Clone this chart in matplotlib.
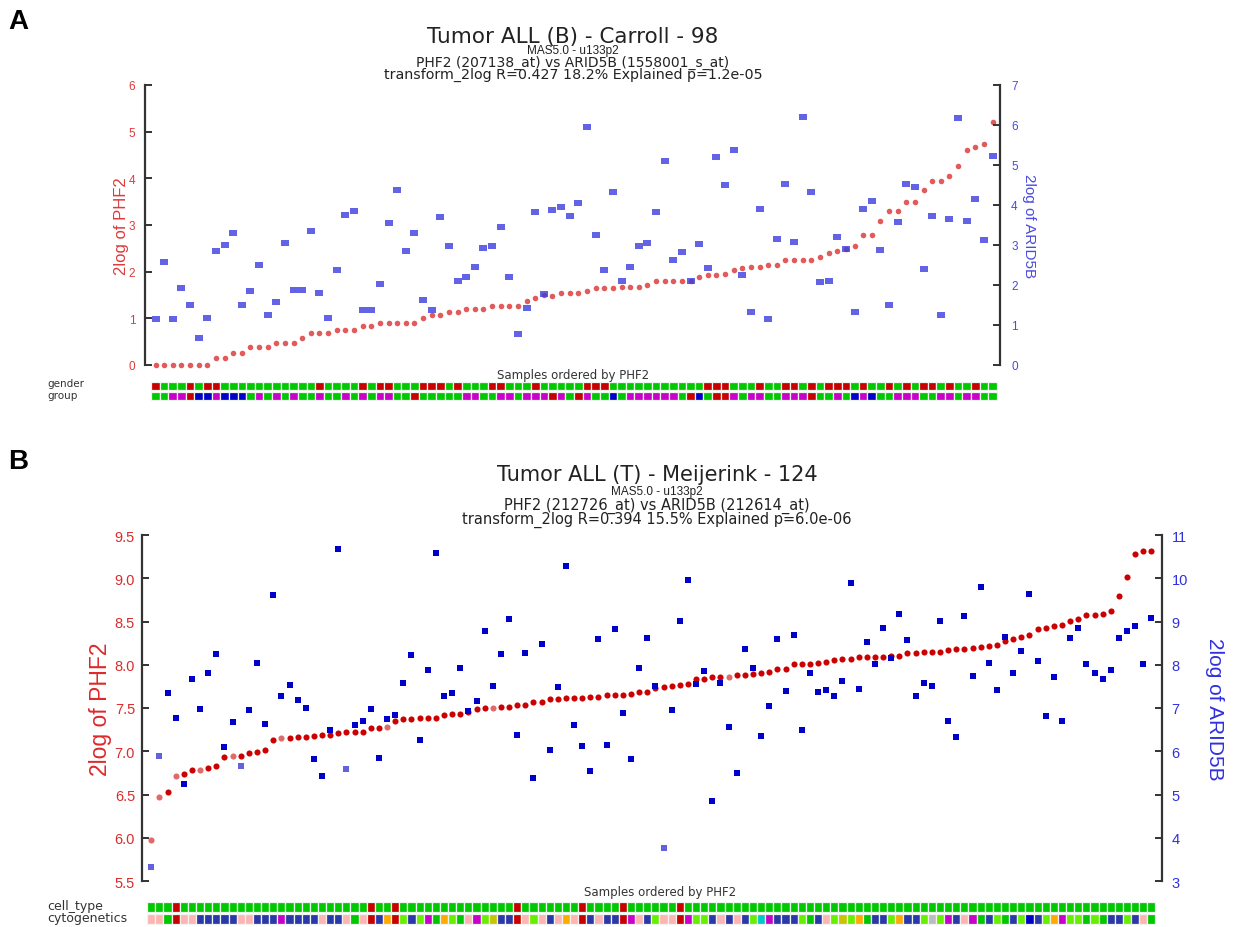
import numpy as np
import matplotlib
matplotlib.use("Agg")
import matplotlib.pyplot as plt

plt.rcParams['font.family'] = ['Liberation Sans', 'DejaVu Sans']

# ---------------- Panel A: Tumor ALL (B) - Carroll - 98 ----------------
phf2_a = [0, 0, 0, 0, 0, 0, 0, 0.14, 0.14, 0.26, 0.26, 0.38, 0.38, 0.38, 0.48, 0.48, 0.48,
          0.58, 0.68, 0.68, 0.68, 0.76, 0.76, 0.76, 0.84, 0.84, 0.91, 0.91, 0.91, 0.91, 0.91,
          1.00, 1.08, 1.08, 1.14, 1.14, 1.19, 1.19, 1.19, 1.26, 1.26, 1.26, 1.26, 1.38, 1.44,
          1.50, 1.48, 1.54, 1.54, 1.54, 1.59, 1.64, 1.64, 1.64, 1.68, 1.68, 1.68, 1.72, 1.80,
          1.80, 1.80, 1.80, 1.80, 1.88, 1.92, 1.92, 1.96, 2.04, 2.08, 2.10, 2.10, 2.14, 2.14,
          2.24, 2.24, 2.26, 2.26, 2.31, 2.40, 2.44, 2.49, 2.56, 2.78, 2.78, 3.08, 3.30, 3.30,
          3.50, 3.50, 3.74, 3.94, 3.94, 4.06, 4.26, 4.61, 4.68, 4.74, 5.21]
arid5b_a = [1.14, 2.58, 1.14, 1.93, 1.49, 0.68, 1.18, 2.84, 3.01, 3.31, 1.49, 1.84, 2.49,
            1.26, 1.58, 3.05, 1.88, 1.88, 3.36, 1.79, 1.18, 2.38, 3.75, 3.84, 1.38, 1.38,
            2.03, 3.54, 4.38, 2.84, 3.31, 1.63, 1.38, 3.71, 2.98, 2.10, 2.19, 2.45, 2.92,
            2.98, 3.45, 2.19, 0.77, 1.42, 3.83, 1.78, 3.88, 3.94, 3.73, 4.06, 5.95, 3.24,
            2.38, 4.33, 2.10, 2.45, 2.98, 3.06, 3.83, 5.11, 2.63, 2.82, 2.10, 3.03, 2.43,
            5.20, 4.50, 5.38, 2.24, 1.33, 3.89, 1.14, 3.15, 4.53, 3.08, 6.20, 4.33, 2.08,
            2.10, 3.19, 2.90, 1.33, 3.89, 4.10, 2.87, 1.49, 3.57, 4.53, 4.45, 2.40, 3.73,
            1.26, 3.66, 6.18, 3.59, 4.15, 3.13, 5.23]
gender_a = ("RGGGRGRRGG" "GGGGGGGGGR" "GGGGRGRRGG" "GRRRGRGGGR" "RGGGRGGGGG"
            "RRRGGGGGGG" "GGGGRRRGGG" "RGGRRGRGRR" "RGRGGRGRGR" "RGRGGRGG")
group_a = ("GGMMRBBMBB" "BGMGMGMGGM" "GGMGMGMMGG" "RGGGGGMMGG" "MMGMMMRMGR"
           "MGGBGMMMMM" "MGRBGRRMGM" "MGGMMMRGGM" "GBMBGGMMMG" "GMMGMMGG")

# ---------------- Panel B: Tumor ALL (T) - Meijerink - 124 ----------------
phf2_b = [5.97, 6.47, 6.53, 6.71, 6.74, 6.78, 6.78, 6.81, 6.83, 6.93, 6.94, 6.95, 6.98,
          6.99, 7.02, 7.13, 7.15, 7.15, 7.17, 7.17, 7.18, 7.19, 7.19, 7.21, 7.22, 7.22,
          7.22, 7.27, 7.27, 7.28, 7.35, 7.37, 7.37, 7.38, 7.39, 7.39, 7.42, 7.43, 7.43,
          7.45, 7.49, 7.50, 7.50, 7.51, 7.51, 7.53, 7.54, 7.57, 7.57, 7.60, 7.60, 7.62,
          7.62, 7.62, 7.63, 7.63, 7.65, 7.65, 7.65, 7.66, 7.68, 7.68, 7.73, 7.74, 7.75,
          7.77, 7.78, 7.83, 7.83, 7.86, 7.86, 7.86, 7.88, 7.88, 7.89, 7.90, 7.92, 7.95,
          7.95, 8.01, 8.01, 8.01, 8.02, 8.03, 8.05, 8.07, 8.07, 8.09, 8.09, 8.09, 8.09,
          8.10, 8.10, 8.14, 8.14, 8.15, 8.15, 8.15, 8.17, 8.18, 8.18, 8.19, 8.21, 8.22,
          8.23, 8.27, 8.30, 8.32, 8.34, 8.41, 8.42, 8.45, 8.46, 8.51, 8.53, 8.58, 8.58,
          8.59, 8.62, 8.79, 9.01, 9.28, 9.31, 9.32]
arid5b_b = [3.32, 5.88, 7.35, 6.78, 5.24, 7.66, 6.97, 7.80, 8.25, 6.09, 6.68, 5.67, 6.95,
            8.04, 6.62, 9.61, 7.27, 7.53, 7.19, 7.00, 5.82, 5.43, 6.49, 10.68, 5.59, 6.60,
            6.71, 6.97, 5.85, 6.74, 6.84, 7.58, 8.22, 6.25, 7.88, 10.59, 7.27, 7.35, 7.93,
            6.92, 7.16, 8.78, 7.51, 8.25, 9.05, 6.38, 8.28, 5.38, 8.47, 6.02, 7.48, 10.28,
            6.60, 6.12, 5.54, 8.60, 6.15, 8.82, 6.89, 5.82, 7.93, 8.63, 7.51, 3.77, 6.95,
            9.02, 9.95, 7.56, 7.85, 4.86, 7.58, 6.55, 5.50, 8.36, 7.93, 6.36, 7.05, 8.60,
            7.40, 8.68, 6.49, 7.80, 7.38, 7.42, 7.27, 7.62, 9.90, 7.45, 8.52, 8.02, 8.86,
            8.15, 9.18, 8.58, 7.27, 7.58, 7.51, 9.02, 6.71, 6.33, 9.13, 7.75, 9.80, 8.04,
            7.42, 8.65, 7.82, 8.31, 9.64, 8.09, 6.82, 7.72, 6.71, 8.63, 8.86, 8.02, 7.82,
            7.67, 7.88, 8.63, 8.78, 8.89, 8.02, 9.08]
# samples whose measurement is shown in a paler tone (1-based)
pale_phf2_b = [1, 2, 4, 7, 11, 17, 30, 43, 72]
pale_arid5b_b = [1, 2, 12, 25, 64]
cell_type_b = "".join("R" if i in (4, 28, 31, 46, 54, 59, 66) else "G" for i in range(1, 125))
cytogenetics_b = ("PPGRPPNNNN" "NPPNNNMNNN" "NPNNPGPRNO" "RLNLMGOLGP" "MLYNNRPLPN"
                  "POPRNPNNRM" "PNLPPRMLLN" "PNPNLCMNNN" "LGNPLYLOGN" "NLONNLALMN"
                  "PMGNLGNLBN" "LOMLLGLGNN" "LNPG")

palette = {"G": "#00c800", "R": "#c80000", "M": "#c800c8", "B": "#0000c8",
           "P": "#ffb4b4", "N": "#2a38a8", "O": "#ffaa00", "L": "#66f000",
           "Y": "#c8c400", "C": "#00c8c8", "A": "#bcbcbc"}

W, H = 1239, 928
fig = plt.figure(figsize=(W / 100, H / 100), dpi=100)
WIDE = ['DejaVu Sans']


def box(left, top, right, bottom):
    return [left / W, 1 - bottom / H, (right - left) / W, (bottom - top) / H]


def ftext(x, y, s, **kw):
    fig.text(x / W, 1 - y / H, s, **kw)


GREY = "#333333"
TXT = "#222222"


def style_pair(ax, tw, lcol, rcol, fs, lpad, rpad):
    for a in (ax, tw):
        a.spines['top'].set_visible(False)
        a.spines['bottom'].set_visible(False)
        a.set_xticks([])
        a.patch.set_visible(False)
    ax.spines['right'].set_visible(False)
    tw.spines['left'].set_visible(False)
    ax.spines['left'].set_color(GREY)
    ax.spines['left'].set_linewidth(1.6)
    tw.spines['right'].set_color(GREY)
    tw.spines['right'].set_linewidth(1.6)
    ax.tick_params(axis='y', direction='in', length=5, width=1.4, color=GREY,
                   labelcolor=lcol, labelsize=fs, pad=lpad)
    tw.tick_params(axis='y', direction='in', length=5, width=1.4, color=GREY,
                   labelcolor=rcol, labelsize=fs, pad=rpad)


rect_marker = [(-1.5, -1), (1.5, -1), (1.5, 1), (-1.5, 1)]

# ---- Panel A main plot
axA = fig.add_axes(box(145, 86, 1000, 366))
twA = axA.twinx()
xa = np.arange(len(phf2_a))
axA.plot(xa, phf2_a, ls='none', marker='o', ms=4.0, mew=0, color='#e25a5a', clip_on=False)
twA.plot(xa, arid5b_a, ls='none', marker=rect_marker, ms=5.8, mew=0, color='#3c3ce0',
         alpha=0.8, clip_on=False)
axA.set_xlim(-1.22, 97.86)
twA.set_xlim(-1.22, 97.86)
axA.set_ylim(0, 6)
twA.set_ylim(0, 7)
axA.set_yticks(range(0, 7))
twA.set_yticks(range(0, 8))
style_pair(axA, twA, '#e03a3a', '#4a4ae0', 8.5, 7, 8)
axA.set_ylabel("2log of PHF2", color='#e03a3a', fontsize=12, labelpad=0)
twA.set_ylabel("2log of ARID5B", color='#4a4ae0', fontsize=11, rotation=270, labelpad=13)

ftext(573, 37, "Tumor ALL (B) - Carroll - 98", ha='center', va='center', fontsize=15.5,
      color=TXT, family=WIDE)
ftext(573, 51, "MAS5.0 - u133p2", ha='center', va='center', fontsize=8.5, color=TXT)
ftext(573, 63, "PHF2 (207138_at) vs ARID5B (1558001_s_at)", ha='center', va='center',
      fontsize=10, color=TXT, family=WIDE)
ftext(573, 75, "transform_2log R=0.427 18.2% Explained p=1.2e-05", ha='center', va='center',
      fontsize=10.3, color=TXT, family=WIDE)
ftext(573, 376, "Samples ordered by PHF2", ha='center', va='center', fontsize=8.5,
      color='#333333', family=WIDE)
ftext(8, 22, "A", ha='left', va='center', fontsize=20, fontweight='bold', color='black')

# ---- Panel A annotation rows
barA = fig.add_axes(box(145, 381, 1000, 403))
barA.bar(xa, 8, bottom=2, width=1.0, color=[palette[c] for c in gender_a],
         edgecolor='#eef5ee', linewidth=0.9)
barA.bar(xa, 8, bottom=12, width=1.0, color=[palette[c] for c in group_a],
         edgecolor='#eef5ee', linewidth=0.9)
barA.set_xlim(-1.22, 97.86)
barA.set_ylim(22, 0)
barA.axis('off')
ftext(47, 384, "gender", ha='left', va='center', fontsize=7.5, color='#333333', family=WIDE)
ftext(47, 396, "group", ha='left', va='center', fontsize=7.5, color='#333333', family=WIDE)

# ---- Panel B main plot
axB = fig.add_axes(box(142, 536, 1162, 882))
twB = axB.twinx()
xb = np.arange(len(phf2_b))
pr = np.array([i + 1 in pale_phf2_b for i in xb])
pb = np.array([i + 1 in pale_arid5b_b for i in xb])
phf2_arr = np.array(phf2_b)
arid_arr = np.array(arid5b_b)
axB.plot(xb[~pr], phf2_arr[~pr], ls='none', marker='o', ms=4.4, mew=0, color='#cc0000', clip_on=False)
axB.plot(xb[pr], phf2_arr[pr], ls='none', marker='o', ms=4.4, mew=0, color='#e06a6a', clip_on=False)
twB.plot(xb[~pb], arid_arr[~pb], ls='none', marker='s', ms=4.8, mew=0, color='#0000cc', clip_on=False)
twB.plot(xb[pb], arid_arr[pb], ls='none', marker='s', ms=4.8, mew=0, color='#6262dc', clip_on=False)
axB.set_xlim(-1.14, 124.3)
twB.set_xlim(-1.14, 124.3)
axB.set_ylim(5.5, 9.5)
twB.set_ylim(3, 11)
axB.set_yticks(np.arange(5.5, 9.51, 0.5))
axB.set_yticklabels([f"{v:.1f}" for v in np.arange(5.5, 9.51, 0.5)])
twB.set_yticks(range(3, 12))
style_pair(axB, twB, '#dd2a2a', '#3030dd', 10.5, 5, 7)
axB.set_ylabel("2log of PHF2", color='#dd2a2a', fontsize=16.5, labelpad=2)
twB.set_ylabel("2log of ARID5B", color='#3030dd', fontsize=15, rotation=270, labelpad=26)

ftext(657, 475, "Tumor ALL (T) - Meijerink - 124", ha='center', va='center', fontsize=15,
      color=TXT, family=WIDE)
ftext(657, 492, "MAS5.0 - u133p2", ha='center', va='center', fontsize=8.5, color=TXT)
ftext(657, 506, "PHF2 (212726_at) vs ARID5B (212614_at)", ha='center', va='center',
      fontsize=10.5, color=TXT, family=WIDE)
ftext(657, 520, "transform_2log R=0.394 15.5% Explained p=6.0e-06", ha='center', va='center',
      fontsize=10.5, color=TXT, family=WIDE)
ftext(660, 893, "Samples ordered by PHF2", ha='center', va='center', fontsize=8.5,
      color='#333333', family=WIDE)
ftext(8, 462, "B", ha='left', va='center', fontsize=20, fontweight='bold', color='black')

# ---- Panel B annotation rows
barB = fig.add_axes(box(142, 902, 1162, 926))
barB.bar(xb, 10, bottom=1, width=1.0, color=[palette[c] for c in cell_type_b],
         edgecolor='#eef5ee', linewidth=0.9)
barB.bar(xb, 10, bottom=13, width=1.0, color=[palette[c] for c in cytogenetics_b],
         edgecolor='#eef5ee', linewidth=0.9)
barB.set_xlim(-1.14, 124.3)
barB.set_ylim(24, 0)
barB.axis('off')
ftext(47, 907, "cell_type", ha='left', va='center', fontsize=9, color='#333333', family=WIDE)
ftext(47, 919, "cytogenetics", ha='left', va='center', fontsize=9, color='#333333', family=WIDE)

fig.savefig("out.png", dpi=100)
